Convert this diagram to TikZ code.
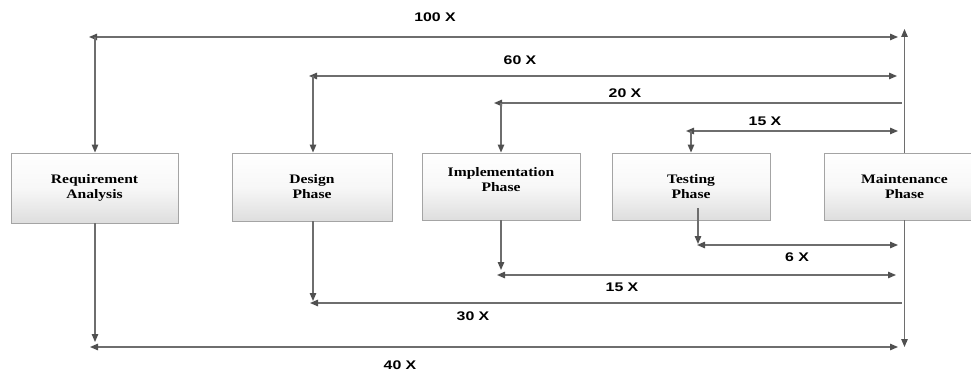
\documentclass[tikz,border=0pt]{standalone}
\usepackage{fontspec}
\usetikzlibrary{arrows.meta,shadows}
\newfontfamily\phasefont[FakeStretch=1.2]{Liberation Serif}
\newfontfamily\ratefont[FakeStretch=1.27]{Liberation Sans}
\definecolor{linegray}{HTML}{6E6E6E}
\definecolor{tipgray}{HTML}{505050}
\definecolor{boxedge}{HTML}{A4A4A4}
\begin{document}
\begin{tikzpicture}[x=1pt,y=-1pt,
  phasebox/.style={draw=boxedge, line width=0.9pt, rectangle,
    top color=white, bottom color=black!13, middle color=black!3,
    drop shadow={shadow xshift=1.2pt, shadow yshift=-1.2pt, opacity=0.35, fill=black!60},
    align=center, inner sep=0pt,
    font=\phasefont\bfseries\fontsize{13}{15}\selectfont},
  rate/.style={font=\ratefont\bfseries\fontsize{12.5}{14}\selectfont, inner sep=0pt},
  link/.style={draw=linegray, line width=1.3pt},
  tip/.style={-{Triangle[length=8pt,width=6.5pt,fill=tipgray,color=tipgray]}},
  both/.style={{Triangle[length=8pt,width=6.5pt,fill=tipgray,color=tipgray]}-{Triangle[length=8pt,width=6.5pt,fill=tipgray,color=tipgray]}}
]
\useasboundingbox (0,0) rectangle (971,374);
\clip (0,0) rectangle (971,374);

% phase boxes
\node[phasebox, minimum width=167pt, minimum height=70pt] (req) at (94.5,188)
  {Requirement\\Analysis};
\node[phasebox, minimum width=160pt, minimum height=68pt] (des) at (312,187)
  {Design\\Phase};
\node[phasebox, minimum width=158pt, minimum height=67pt, text depth=14pt] (imp) at (501,186.5)
  {Implementation\\Phase};
\node[phasebox, minimum width=158pt, minimum height=67pt] (tst) at (691,186.5)
  {Testing\\Phase};
\node[phasebox, minimum width=160pt, minimum height=67pt] (mnt) at (904.5,186.5)
  {Maintenance\\Phase};

% named points on the feedback and cost lines
\coordinate (top) at (904.5,29);
\coordinate (bot) at (904.5,347);
\coordinate (aL) at (89,37);   \coordinate (aR) at (898,37);   \coordinate (aV) at (95,37);
\coordinate (bL) at (309,76);  \coordinate (bR) at (897,76);   \coordinate (bV) at (313,76);
\coordinate (cL) at (494,103); \coordinate (cR) at (902,103);  \coordinate (cV) at (501,103);
\coordinate (dL) at (686,131); \coordinate (dR) at (898,131);  \coordinate (dV) at (691,131);
\coordinate (eL) at (697,245); \coordinate (eR) at (898,245);
\coordinate (eS) at (698,208); \coordinate (eT) at (698,244);
\coordinate (fL) at (497,275); \coordinate (fR) at (896,275);  \coordinate (fT) at (501,270);
\coordinate (gL) at (310,303); \coordinate (gR) at (902,303);  \coordinate (gT) at (313,301);
\coordinate (hL) at (90,347);  \coordinate (hR) at (898,347);  \coordinate (hT) at (95,342);

% central vertical line through maintenance
\draw[link,tip] (mnt.north) -- (top);
\draw[link,tip] (mnt.south) -- (bot);

% upper (rework) lines
\draw[link,both] (aL) -- (aR);
\draw[link,tip] (aV) -- (aV |- req.north);
\draw[link,both] (bL) -- (bR);
\draw[link,tip] (bV) -- (bV |- des.north);
\draw[link,tip] (cR) -- (cL);
\draw[link,tip] (cV) -- (cV |- imp.north);
\draw[link,both] (dL) -- (dR);
\draw[link,tip] (dV) -- (dV |- tst.north);

% lower lines
\draw[link,tip] (eS) -- (eT);
\draw[link,both] (eL) -- (eR);
\draw[link,tip] (fT |- imp.south) -- (fT);
\draw[link,both] (fL) -- (fR);
\draw[link,tip] (gT |- des.south) -- (gT);
\draw[link,tip] (gR) -- (gL);
\draw[link,tip] (hT |- req.south) -- (hT);
\draw[link,both] (hL) -- (hR);

% cost factors
\node[rate] (l100) at (435,17)  {100 X};
\node[rate] (l60)  at (520,60)  {60 X};
\node[rate] (l20)  at (625,93)  {20 X};
\node[rate] (l15a) at (765,121) {15 X};
\node[rate] (l6)   at (797,257) {6 X};
\node[rate] (l15b) at (622,287) {15 X};
\node[rate] (l30)  at (473,316) {30 X};
\node[rate] (l40)  at (400,365) {40 X};
\end{tikzpicture}
\end{document}
